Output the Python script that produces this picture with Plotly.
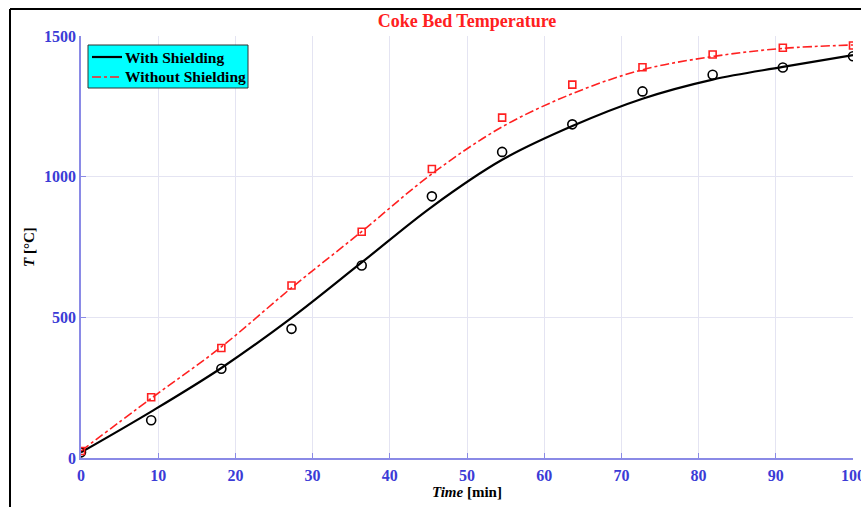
import plotly.graph_objects as go

time_min = [0, 9.09, 18.18, 27.27, 36.36, 45.45, 54.55, 63.64, 72.73, 81.82, 90.91, 100]
# model curves
with_shield_line = [20, 165, 320, 498, 695, 893, 1060, 1180, 1277, 1345, 1390, 1432]
without_shield_line = [25, 212, 395, 605, 805, 1010, 1177, 1295, 1380, 1427, 1456, 1468]
# measured points
with_shield_pts = [20, 134, 317, 459, 684, 930, 1088, 1186, 1303, 1362, 1388, 1428]
without_shield_pts = [25, 216, 391, 613, 804, 1027, 1210, 1327, 1389, 1434, 1458, 1466]

x_ticks = [0, 10, 20, 30, 40, 50, 60, 70, 80, 90, 100]
y_ticks = [0, 500, 1000, 1500]
legend_names = ["With Shielding", "Without Shielding"]

SERIF = "Liberation Serif, Times New Roman, serif"
BLUE = "#3b3bd6"
RED = "#ff2020"

# plot-area geometry in pixels (for legend / frame placement)
L, R, T, B = 81, 853, 36, 458
def px(x):
    return (x - L) / (R - L)
def py(y):
    return (B - y) / (B - T)

fig = go.Figure()
fig.add_trace(go.Scatter(x=time_min, y=with_shield_line, mode="lines", name=legend_names[0],
                         showlegend=False, line=dict(color="black", width=2.2, shape="spline")))
fig.add_trace(go.Scatter(x=time_min, y=without_shield_line, mode="lines", name=legend_names[1],
                         showlegend=False, line=dict(color=RED, width=1.6, dash="dashdot", shape="spline")))
fig.add_trace(go.Scatter(x=time_min, y=with_shield_pts, mode="markers", showlegend=False,
                         marker=dict(symbol="circle-open", color="black", size=9, line=dict(width=1.6))))
fig.add_trace(go.Scatter(x=time_min, y=without_shield_pts, mode="markers", showlegend=False,
                         marker=dict(symbol="square-open", color=RED, size=7, line=dict(width=1.6))))

fig.update_layout(
    width=861, height=507,
    margin=dict(l=L, r=861 - R, t=T, b=507 - B, autoexpand=False),
    paper_bgcolor="white", plot_bgcolor="white",
    title=dict(text="<b>Coke Bed Temperature</b>", x=(L + R) / 2 / 861, xanchor="center",
               y=1 - 21 / 507, yanchor="middle",
               font=dict(family=SERIF, size=18, color=RED)),
    font=dict(family=SERIF),
    showlegend=False,
)
fig.update_xaxes(range=[0, 100], tickvals=x_ticks, ticktext=[f"<b>{v}</b>" for v in x_ticks],
                 automargin=False,
                 showline=True, linecolor="#8a8ae6", linewidth=1.5,
                 ticks="inside", ticklen=5, tickcolor="#8a8ae6",
                 showgrid=True, gridcolor="#e4e4f2", gridwidth=1, zeroline=False,
                 ticklabeloverflow="allow", ticklabelstandoff=2,
                 tickfont=dict(family=SERIF, size=16, color=BLUE),
                 title=dict(text="<b><i>Time</i> [min]</b>", standoff=3,
                            font=dict(family=SERIF, size=15, color="black")))
fig.update_yaxes(range=[0, 1500], tickvals=y_ticks, ticktext=[f"<b>{v}</b>" for v in y_ticks],
                 automargin=False,
                 showline=True, linecolor="#8a8ae6", linewidth=1.5,
                 ticks="inside", ticklen=5, tickcolor="#8a8ae6",
                 showgrid=True, gridcolor="#e4e4f2", gridwidth=1, zeroline=False,
                 tickfont=dict(family=SERIF, size=16, color=BLUE),
                 title=dict(text="<b><i>T</i> [°C]</b>", standoff=6,
                            font=dict(family=SERIF, size=15, color="black")))

# legend box (cyan) drawn by hand to match the compact original
fig.add_shape(type="rect", xref="paper", yref="paper",
              x0=px(88), x1=px(248), y0=py(88), y1=py(45),
              fillcolor="#00ffff", line=dict(color="#333333", width=1), layer="above")
legend_styles = [dict(color="black", width=2.2), dict(color=RED, width=1.6, dash="dashdot")]
for i, (name, style) in enumerate(zip(legend_names, legend_styles)):
    yy = 57 + i * 20
    fig.add_shape(type="line", xref="paper", yref="paper",
                  x0=px(92), x1=px(122), y0=py(yy), y1=py(yy), line=style, layer="above")
    fig.add_annotation(xref="paper", yref="paper", x=px(123), y=py(yy), xanchor="left",
                       yanchor="middle", showarrow=False, text=f"<b>{name}</b>",
                       font=dict(family=SERIF, size=15.5, color="black"))

# outer black frame (left and top edges of the original figure)
fig.add_shape(type="line", xref="paper", yref="paper",
              x0=px(10), x1=px(861), y0=py(9), y1=py(9), line=dict(color="black", width=2))
fig.add_shape(type="line", xref="paper", yref="paper",
              x0=px(10), x1=px(10), y0=py(9), y1=py(507), line=dict(color="black", width=2))

fig.write_html("out.html")
